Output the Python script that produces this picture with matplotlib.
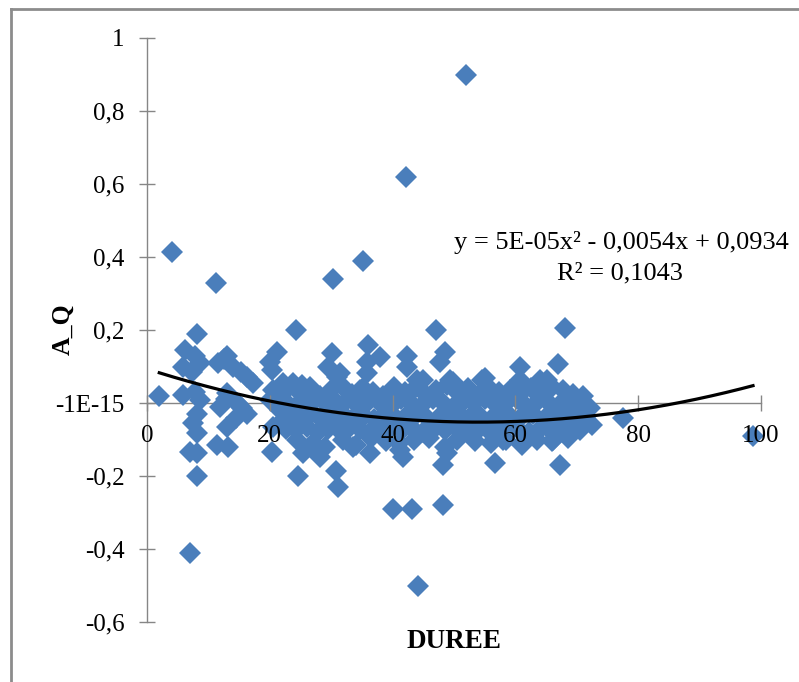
import numpy as np
import matplotlib
matplotlib.use('Agg')
import matplotlib.pyplot as plt
from matplotlib.lines import Line2D

plt.rcParams['font.family'] = ['Liberation Serif', 'DejaVu Serif']

# ---- data ----
duree_out = [52.0, 42.2, 4.1, 11.2, 30.3, 35.2, 24.3, 8.1, 47.0, 68.1,
             2.0, 7.0, 8.1, 24.6, 30.8, 31.1, 40.0, 43.1, 48.2, 44.2,
             48.2, 56.7, 67.3, 77.5, 98.7, 67.0, 60.7, 48.5, 42.3]
aq_out = [0.90, 0.62, 0.415, 0.33, 0.34, 0.39, 0.20, 0.19, 0.20, 0.205,
          0.02, -0.41, -0.20, -0.20, -0.185, -0.23, -0.29, -0.29, -0.28, -0.50,
          -0.17, -0.165, -0.17, -0.04, -0.09, 0.107, 0.10, 0.14, 0.13]

duree_left = [6.2, 7.8, 8.6, 5.9, 7.3, 5.9, 7.8, 8.6, 8.1, 7.5, 8.1, 7.0, 8.2,
              13.0, 11.6, 14.0, 12.5, 15.3, 16.3, 17.3, 13.0, 11.9, 14.7, 12.8,
              16.3, 14.5, 13.0, 11.4, 13.2, 15.5,
              21.2, 20.0, 20.3, 20.5, 22.2, 20.0, 21.7, 20.5, 20.3, 21.5, 22.5]
aq_left = [0.145, 0.13, 0.11, 0.10, 0.085, 0.022, 0.03, 0.008, -0.03, -0.055, -0.082, -0.133, -0.137,
           0.13, 0.11, 0.10, 0.12, 0.085, 0.07, 0.055, 0.027, -0.01, 0.0, 0.01,
           -0.03, -0.04, -0.065, -0.115, -0.12, -0.015,
           0.14, 0.113, 0.09, 0.036, 0.055, 0.008, -0.02, -0.065, -0.133, 0.02, -0.04]

duree_a = [23.0, 24.8, 26.5, 28.1, 30.0, 31.6, 33.4, 35.1, 36.8, 38.5, 40.2, 42.0, 43.6, 45.3, 47.1,
           48.8, 50.5, 52.2, 53.9, 55.6, 57.4, 59.1, 60.8, 62.5, 64.2, 66.0, 67.7, 69.4, 71.0]
aq_a = [0.04, 0.03, 0.045, 0.02, 0.035, 0.05, 0.025, 0.04, 0.03, 0.02, 0.045, 0.03, 0.04, 0.025, 0.035,
        0.05, 0.03, 0.04, 0.02, 0.045, 0.03, 0.035, 0.025, 0.04, 0.03, 0.045, 0.035, 0.025, 0.02]

duree_b = [22.4, 24.1, 25.9, 27.6, 29.3, 31.0, 32.7, 34.5, 36.2, 37.9, 39.6, 41.4, 43.0, 44.8, 46.5,
           48.2, 49.9, 51.6, 53.3, 55.1, 56.8, 58.5, 60.2, 61.9, 63.7, 65.4, 67.1, 68.8, 70.5, 72.2]
aq_b = [0.005, -0.01, 0.0, 0.01, -0.005, 0.0, 0.01, -0.01, 0.005, 0.0, -0.01, 0.01, 0.0, -0.005, 0.01,
        0.0, -0.01, 0.005, 0.0, 0.01, -0.005, 0.0, 0.01, -0.01, 0.005, 0.0, -0.005, 0.01, 0.0, -0.015]

duree_c = [23.2, 25.0, 26.7, 28.4, 30.2, 31.9, 33.6, 35.3, 37.0, 38.8, 40.5, 42.2, 43.9, 45.7, 47.4,
           49.1, 50.8, 52.5, 54.3, 56.0, 57.7, 59.4, 61.1, 62.9, 64.6, 66.3, 68.0, 69.7, 71.4]
aq_c = [-0.035, -0.04, -0.03, -0.045, -0.035, -0.03, -0.04, -0.035, -0.045, -0.03, -0.04, -0.035, -0.03, -0.045, -0.04,
        -0.035, -0.03, -0.04, -0.035, -0.045, -0.03, -0.04, -0.035, -0.03, -0.045, -0.04, -0.035, -0.03, -0.04]

duree_d = [22.6, 24.3, 26.1, 27.8, 29.5, 31.2, 33.0, 34.7, 36.4, 38.1, 39.9, 41.6, 43.3, 45.0, 46.8,
           48.5, 50.2, 51.9, 53.6, 55.4, 57.1, 58.8, 60.5, 62.2, 64.0, 65.7, 67.4, 69.1, 70.8]
aq_d = [-0.07, -0.075, -0.065, -0.08, -0.07, -0.075, -0.065, -0.07, -0.08, -0.07, -0.065, -0.075, -0.07, -0.08, -0.07,
        -0.075, -0.065, -0.07, -0.08, -0.07, -0.075, -0.065, -0.07, -0.08, -0.07, -0.075, -0.065, -0.07, -0.06]

duree_e = [24.5, 27.0, 29.0, 32.0, 34.0, 36.5, 39.0, 41.0, 43.5, 46.0, 48.5, 50.5, 53.5, 56.0, 58.5,
           61.0, 63.5, 66.0, 68.5]
aq_e = [-0.10, -0.11, -0.12, -0.10, -0.115, -0.095, -0.105, -0.11, -0.10, -0.095, -0.12, -0.10, -0.105, -0.11, -0.10,
        -0.115, -0.10, -0.105, -0.095]

duree_edge = [25.4, 28.2, 36.3, 41.2, 48.9, 58.0, 66.1, 70.5, 33.5, 41.7, 72.5,
              30.1, 29.5, 36.0, 37.9, 35.8, 42.3, 47.7, 44.0, 49.3, 54.6, 60.7, 65.1,
              23.8, 30.9, 34.7, 31.4, 25.2, 45.0, 35.8, 55.0, 64.0, 49.9, 60.3]
aq_edge = [-0.137, -0.148, -0.137, -0.129, -0.137, -0.10, -0.10, -0.074, -0.12, -0.148, -0.06,
           0.137, 0.10, 0.159, 0.126, 0.112, 0.10, 0.112, 0.063, 0.063, 0.063, 0.063, 0.063,
           0.055, 0.07, 0.036, 0.082, 0.05, 0.063, 0.082, 0.068, 0.063, 0.058, 0.041]

duree = duree_out + duree_left + duree_a + duree_b + duree_c + duree_d + duree_e + duree_edge
aq = aq_out + aq_left + aq_a + aq_b + aq_c + aq_d + aq_e + aq_edge

trend_coef = [5e-05, -0.0054, 0.0934]
y_ticks = [-0.6, -0.4, -0.2, 0.0, 0.2, 0.4, 0.6, 0.8, 1.0]
y_labels = ['-0,6', '-0,4', '-0,2', '-1E-15', '0,2', '0,4', '0,6', '0,8', '1']
x_ticks = [0, 20, 40, 60, 80, 100]

W, H = 799, 682
fig = plt.figure(figsize=(W / 100, H / 100), dpi=100)
ax = fig.add_axes([147 / W, 60 / H, 614 / W, 584 / H])

BLUE = '#4A7EBB'
GREY = '#868686'

ax.plot(duree, aq, linestyle='none', marker='D', markersize=11.5,
        color=BLUE, markeredgewidth=0, clip_on=False, zorder=2)

xs = np.linspace(min(duree), max(duree), 200)
ax.plot(xs, np.polyval(trend_coef, xs), color='black', lw=2.3, zorder=3, clip_on=False)

ax.set_xlim(0, 100)
ax.set_ylim(-0.6, 1.0)
ax.set_axisbelow(False)  # tick labels sit on top of the markers
ax.spines['top'].set_visible(False)
ax.spines['right'].set_visible(False)
ax.spines['bottom'].set_position(('data', 0))
for s in ('left', 'bottom'):
    ax.spines[s].set_color(GREY)
    ax.spines[s].set_linewidth(1.0)
    ax.spines[s].set_zorder(1)

ax.set_yticks(y_ticks)
ax.set_yticklabels(y_labels)
ax.set_xticks(x_ticks)
ax.tick_params(direction='inout', length=12, width=1, color=GREY, pad=10,
               labelsize=18, labelcolor='black')

fig.text(63 / W, 1 - 329 / H, 'A_Q', rotation=90, ha='center', va='center',
         fontsize=18.5, fontweight='bold')
fig.text(454 / W, 1 - 642 / H, 'DUREE', ha='center', va='center',
         fontsize=19.5, fontweight='bold')

fig.text(621 / W, 1 - 243 / H, 'y = 5E-05x² - 0,0054x + 0,0934', ha='center', va='center',
         fontsize=19)
fig.text(620 / W, 1 - 273 / H, 'R² = 0,1043', ha='center', va='center', fontsize=19)

# chart frame (left and top edges visible)
fig.add_artist(Line2D([11 / W, 11 / W], [0, 1 - 9 / H], transform=fig.transFigure,
                      color='#8C8C8C', lw=2))
fig.add_artist(Line2D([11 / W, 1], [1 - 9 / H, 1 - 9 / H], transform=fig.transFigure,
                      color='#8C8C8C', lw=2))

fig.savefig('out.png', dpi=100)
